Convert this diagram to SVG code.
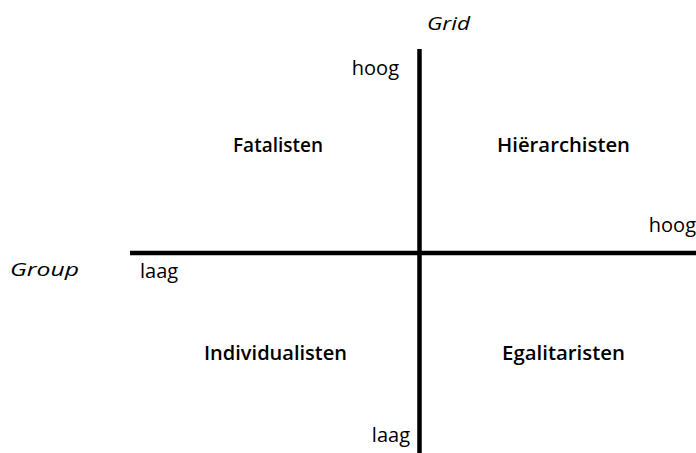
<svg xmlns="http://www.w3.org/2000/svg" width="696" height="453" viewBox="0 0 696 453">
<style>
text{font-family:"Open Sans","Noto Sans","Liberation Sans",sans-serif;fill:#000;}
.lbl{font-size:20px;}
.ax{font-size:19px;font-style:italic;}
.q{font-size:19px;font-weight:600;}
.axis{stroke:#000;stroke-width:4.5;fill:none;}
</style>
<rect width="696" height="453" fill="#fff"/>
<g id="connectors">
<line class="axis" x1="419.5" y1="49" x2="419.5" y2="453"/>
<line class="axis" x1="130" y1="253" x2="696" y2="253"/>
</g>
<g id="grid-label"><text class="ax" x="427" y="30" textLength="43" lengthAdjust="spacingAndGlyphs">Grid</text></g>
<g id="group-label"><text class="ax" x="10" y="276" textLength="69" lengthAdjust="spacingAndGlyphs">Group</text></g>
<g id="grid-hoog"><text class="lbl" x="399" y="75" text-anchor="end">hoog</text></g>
<g id="grid-laag"><text class="lbl" x="410" y="442" text-anchor="end">laag</text></g>
<g id="group-laag"><text class="lbl" x="140" y="278">laag</text></g>
<g id="group-hoog"><text class="lbl" x="696" y="232" text-anchor="end">hoog</text></g>
<g id="fatalisten"><text class="q" x="233" y="152" textLength="90" lengthAdjust="spacingAndGlyphs">Fatalisten</text></g>
<g id="hierarchisten"><text class="q" x="497" y="152" textLength="133" lengthAdjust="spacingAndGlyphs">Hiërarchisten</text></g>
<g id="individualisten"><text class="q" x="204" y="360" textLength="143" lengthAdjust="spacingAndGlyphs">Individualisten</text></g>
<g id="egalitaristen"><text class="q" x="502" y="360" textLength="123" lengthAdjust="spacingAndGlyphs">Egalitaristen</text></g>
</svg>
